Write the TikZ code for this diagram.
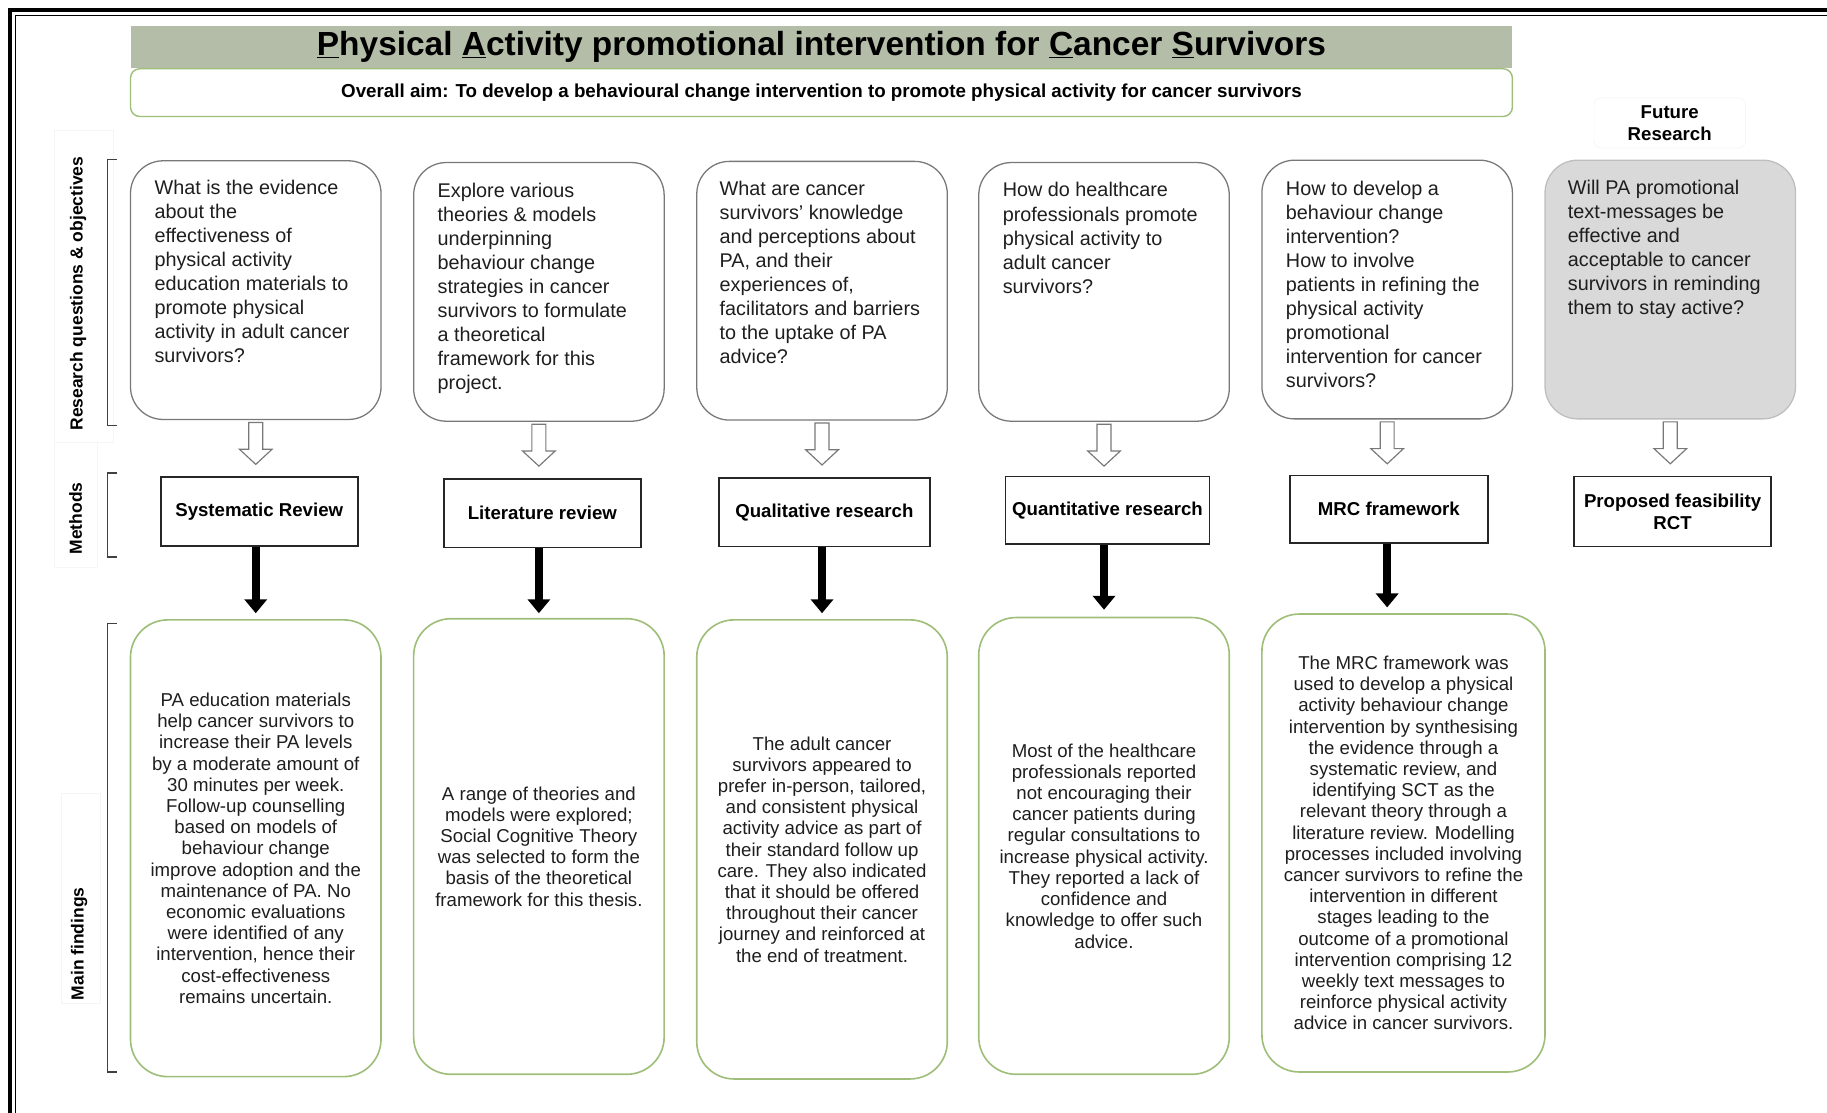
\documentclass[tikz,border=0pt]{standalone}
\usepackage{fontspec}
\setmainfont{Liberation Sans}
\usetikzlibrary{arrows.meta,calc}

\definecolor{titlefill}{RGB}{180,189,168}
\definecolor{leafgreen}{RGB}{158,190,122}
\definecolor{boxgrey}{RGB}{120,120,120}
\definecolor{futurefill}{RGB}{217,217,217}
\definecolor{futureedge}{RGB}{190,190,190}
\definecolor{ink}{RGB}{30,30,30}

\begin{document}
\begin{tikzpicture}[x=1pt,y=-1pt,
  qbox/.style={draw=boxgrey, line width=1.1pt, rounded corners=28pt,
    minimum width=215pt, minimum height=222pt, inner sep=0pt},
  futurebox/.style={qbox, draw=futureedge, fill=futurefill},
  qtext/.style={anchor=north west, inner sep=0pt, align=left, text=ink,
    font=\fontsize{17}{20.6}\selectfont},
  fbox/.style={draw=leafgreen, line width=1.4pt, rounded corners=32pt,
    minimum width=215pt, inner sep=0pt, align=center, text=ink,
    font=\fontsize{16}{18.2}\selectfont},
  mbox/.style={draw=black!85, line width=1.4pt, inner sep=0pt, align=center,
    minimum height=59pt, text=black, font=\bfseries\fontsize{16}{19}\selectfont},
  hollow/.style={draw=boxgrey, line width=1pt, fill=white, line join=miter},
  blk/.style={draw=black, line width=7pt, -{Triangle[width=19pt,length=12pt]}},
  bracket/.style={draw=black!75, line width=1.1pt},
  sidelabel/.style={rotate=90, font=\bfseries\fontsize{15}{18}\selectfont, text=black},
  faint/.style={draw=black!4, line width=0.8pt, fill=white},
]
\useasboundingbox (0,0) rectangle (1568,955);

% page frame: double rule along the top and the left
\draw[line width=3pt] (1568,8.5) -- (8.5,8.5) -- (8.5,955);
\draw[line width=0.9pt] (1568,13.5) -- (13.5,13.5) -- (13.5,955);

% title banner and overall aim
\node[fill=titlefill, minimum width=1186pt, minimum height=36pt, inner sep=0pt,
  font=\bfseries\fontsize{28.7}{34}\selectfont, text=black] (title) at (705,40)
  {\underline{P}hysical \underline{A}ctivity promotional intervention for \underline{C}ancer \underline{S}urvivors};
\node[draw=leafgreen, line width=1.2pt, rounded corners=8pt, fill=white,
  minimum width=1186pt, minimum height=41pt, inner sep=0pt,
  font=\bfseries\fontsize{16.1}{19}\selectfont] (aim) at (705,79.5)
  {Overall aim: To develop a behavioural change intervention to promote physical activity for cancer survivors};

\node[draw=black!6, rounded corners=6pt, minimum width=130pt, minimum height=43pt,
  inner sep=0pt, align=center, font=\bfseries\fontsize{16}{19}\selectfont] (future) at (1433,105.5)
  {Future\\Research};

% row labels with their brackets
\draw[faint] (47,112) rectangle (97,380);
\draw[faint] (47,380) rectangle (84,487);
\draw[faint] (53,681) rectangle (86,861);
\node[sidelabel] (labq) at (67,252) {Research questions \& objectives};
\node[sidelabel] (labm) at (65,445) {Methods};
\node[sidelabel] (labf) at (68,810) {Main findings};
\draw[bracket] (100,137) -- (92,137) -- (92,365) -- (100,365);
\draw[bracket] (100,406) -- (92,406) -- (92,478) -- (100,478);
\draw[bracket] (100,535) -- (92,535) -- (92,920) -- (100,920);

% research questions
\node[qbox] (q1) at (219.5,249) {};
\node[qbox] (q2) at (462.5,250.5) {};
\node[qbox] (q3) at (705.5,249.5) {};
\node[qbox] (q4) at (947.5,250.5) {};
\node[qbox] (q5) at (1190.5,248.5) {};
\node[futurebox] (q6) at (1433.5,248.5) {};

\node[qtext] (q1t) at ($(q1.north west)+(21,14.5)$) {\strut What is the evidence\\about the\\effectiveness of\\physical activity\\education materials to\\promote physical\\activity in adult cancer\\survivors?};
\node[qtext] (q2t) at ($(q2.north west)+(21,15.5)$) {\strut Explore various\\theories \& models\\underpinning\\behaviour change\\strategies in cancer\\survivors to formulate\\a theoretical\\framework for this\\project.};
\node[qtext] (q3t) at ($(q3.north west)+(20,15)$) {\strut What are cancer\\survivors’ knowledge\\and perceptions about\\PA, and their\\experiences of,\\facilitators and barriers\\to the uptake of PA\\advice?};
\node[qtext] (q4t) at ($(q4.north west)+(21,15.5)$) {\strut How do healthcare\\professionals promote\\physical activity to\\adult cancer\\survivors?};
\node[qtext] (q5t) at ($(q5.north west)+(21,16)$) {\strut How to develop a\\behaviour change\\intervention?\\How to involve\\patients in refining the\\physical activity\\promotional\\intervention for cancer\\survivors?};
\node[qtext] (q6t) at ($(q6.north west)+(20,15)$) {\strut Will PA promotional\\text-messages be\\effective and\\acceptable to cancer\\survivors in reminding\\them to stay active?};

% methods
\node[mbox, minimum width=169pt] (m1) at (222.5,439) {Systematic Review};
\node[mbox, minimum width=169pt] (m2) at (465.5,440.5) {Literature review};
\node[mbox, minimum width=181pt] (m3) at (707.5,439.5) {Qualitative research};
\node[mbox, minimum width=175pt, minimum height=58pt] (m4) at (950.5,438) {Quantitative research};
\node[mbox, minimum width=170pt, minimum height=58pt] (m5) at (1192,437) {MRC framework};
\node[mbox, minimum width=169pt, minimum height=60pt] (m6) at (1435.5,439) {Proposed feasibility\\RCT};

% main findings
\node[fbox, minimum height=392pt] (f1) at (219.5,728) {PA education materials\\help cancer survivors to\\increase their PA levels\\by a moderate amount of\\30 minutes per week.\\Follow-up counselling\\based on models of\\behaviour change\\improve adoption and the\\maintenance of PA. No\\economic evaluations\\were identified of any\\intervention, hence their\\cost-effectiveness\\remains uncertain.};
\node[fbox, minimum height=391pt] (f2) at (462.5,726.5) {A range of theories and\\models were explored;\\Social Cognitive Theory\\was selected to form the\\basis of the theoretical\\framework for this thesis.};
\node[fbox, minimum height=394pt] (f3) at (705.5,729) {The adult cancer\\survivors appeared to\\prefer in-person, tailored,\\and consistent physical\\activity advice as part of\\their standard follow up\\care. They also indicated\\that it should be offered\\throughout their cancer\\journey and reinforced at\\the end of treatment.};
\node[fbox, minimum height=392pt] (f4) at (947.5,726) {Most of the healthcare\\professionals reported\\not encouraging their\\cancer patients during\\regular consultations to\\increase physical activity.\\They reported a lack of\\confidence and\\knowledge to offer such\\advice.};
\node[fbox, minimum width=243pt, minimum height=393pt] (f5) at (1204.5,723.5) {The MRC framework was\\used to develop a physical\\activity behaviour change\\intervention by synthesising\\the evidence through a\\systematic review, and\\identifying SCT as the\\relevant theory through a\\literature review. Modelling\\processes included involving\\cancer survivors to refine the\\intervention in different\\stages leading to the\\outcome of a promotional\\intervention comprising 12\\weekly text messages to\\reinforce physical activity\\advice in cancer survivors.};

% hollow arrows from questions to methods
\foreach \q in {q1,q2,q3,q4,q5,q6}{
  \draw[hollow] ($(\q.south)+(-6,2)$) -- ++(12,0) -- ++(0,23) -- ++(8,0)
    -- ++(-14,13) -- ++(-14,-13) -- ++(8,0) -- cycle;
}

% solid arrows from methods to findings
\draw[blk] (f1.north |- m1.south) -- ($(f1.north)+(0,-5)$);
\draw[blk] (f2.north |- m2.south) -- ($(f2.north)+(0,-4)$);
\draw[blk] (f3.north |- m3.south) -- ($(f3.north)+(0,-5)$);
\draw[blk] (f4.north |- m4.south) -- ($(f4.north)+(0,-6)$);
\draw[blk] (q5.south |- m5.south) -- ($(q5.south |- f5.north)+(0,-5)$);
\end{tikzpicture}
\end{document}
